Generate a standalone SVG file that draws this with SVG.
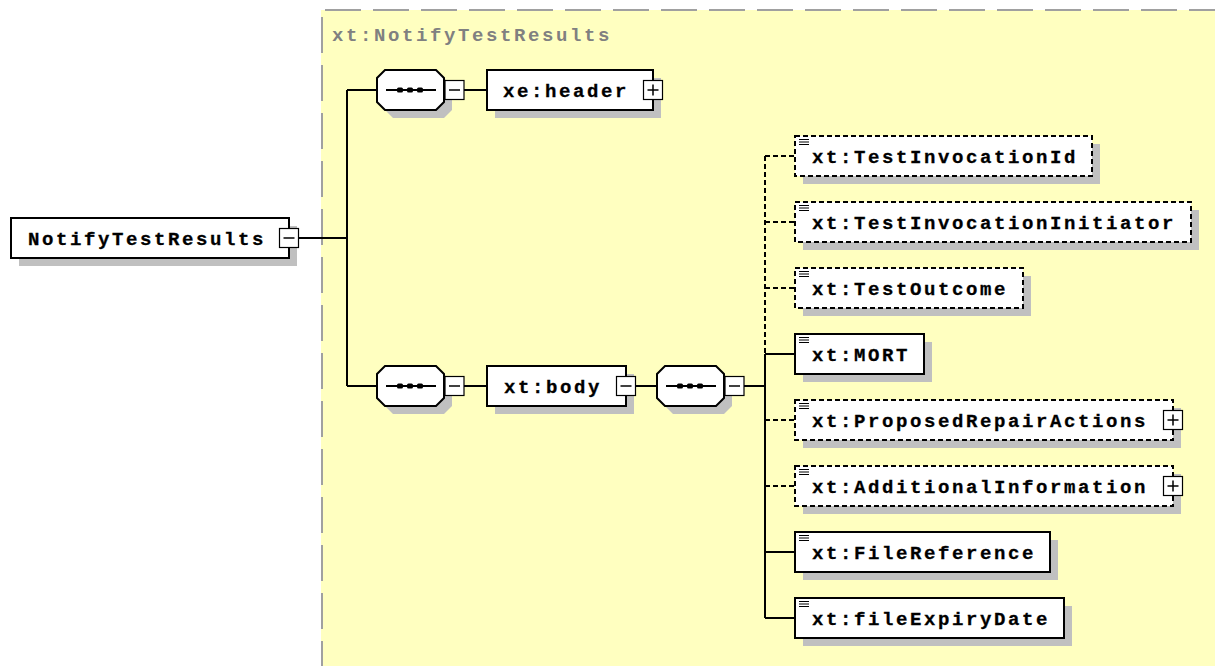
<svg xmlns="http://www.w3.org/2000/svg" xmlns:xlink="http://www.w3.org/1999/xlink" width="1215" height="666" viewBox="0 0 1215 666">
<style>
.box{fill:#ffffff;stroke:#000000;stroke-width:2}
.opt{fill:#ffffff;stroke:#000000;stroke-width:2;stroke-dasharray:5 3}
.shadow{fill:#c0c0c0;stroke:none}
.pm{fill:#ffffff;stroke:#000000;stroke-width:1.2}
.pmline{stroke:#000000;stroke-width:1.5;fill:none}
.conn{stroke:#000000;stroke-width:2;fill:none}
.dconn{stroke:#000000;stroke-width:2;fill:none;stroke-dasharray:5 3}
.lbl{font-family:"Liberation Mono","DejaVu Sans Mono",monospace;font-weight:bold;font-size:19px;letter-spacing:2.6px;fill:#000000;stroke:#000000;stroke-width:0.3}
.title{font-family:"Liberation Mono","DejaVu Sans Mono",monospace;font-weight:bold;font-size:19px;letter-spacing:2.6px;fill:#808080}
.icon{stroke:#000000;stroke-width:1;fill:none}
.seqline{stroke:#000000;stroke-width:2;fill:none}
</style>
<defs>
<path id="oct" d="M8 0 H59 L67 8 V32 L59 40 H8 L0 32 V8 Z"/>
<g id="seqsym">
<path d="M9 20 H59" class="seqline"/>
<rect x="20" y="17.5" width="6" height="5" rx="1.5"/>
<rect x="30" y="17.5" width="6" height="5" rx="1.5"/>
<rect x="40" y="17.5" width="6" height="5" rx="1.5"/>
</g>
<g id="minus">
<rect x="0" y="0" width="19" height="19" class="pm"/>
<path d="M4 9.5 H15" class="pmline"/>
</g>
<g id="plus">
<rect x="0" y="0" width="19" height="19" class="pm"/>
<path d="M4 9.5 H15 M9.5 4 V15" class="pmline"/>
</g>
<g id="elicon">
<path d="M0 0.5 H10 M0 3 H10 M0 5.5 H10" class="icon"/>
</g>
</defs>

<!-- yellow complex type area -->
<g id="typearea">
<rect x="321" y="10" width="894" height="656" fill="#ffffc0"/>
<path d="M325 10 H1215" stroke="#a0a0a0" stroke-width="2" stroke-dasharray="36 12" fill="none"/>
<path d="M322 17 V666" stroke="#a0a0a0" stroke-width="2" stroke-dasharray="36 12" fill="none"/>
<text x="332" y="41" class="title">xt:NotifyTestResults</text>
</g>

<g id="connectors">
<path class="conn" d="M299 238 H347"/>
<path class="conn" d="M347 90 V386"/>
<path class="conn" d="M347 90 H377"/>
<path class="conn" d="M347 386 H377"/>
<path class="conn" d="M464 90 H487"/>
<path class="conn" d="M464 386 H487"/>
<path class="conn" d="M635 386 H657"/>
<path class="conn" d="M744 386 H765"/>
<path class="dconn" d="M765 156 V354"/>
<path class="conn" d="M765 354 V618"/>
<path class="dconn" d="M765 156 H795"/>
<path class="dconn" d="M765 222 H795"/>
<path class="dconn" d="M765 288 H795"/>
<path class="conn" d="M765 354 H795"/>
<path class="dconn" d="M765 420 H795"/>
<path class="dconn" d="M765 486 H795"/>
<path class="conn" d="M765 552 H795"/>
<path class="conn" d="M765 618 H795"/>
</g>

<g id="root">
<rect x="19" y="226" width="278" height="40" class="shadow"/>
<rect x="11" y="218" width="278" height="40" class="box"/>
<text x="28" y="245" class="lbl">NotifyTestResults</text>
<use xlink:href="#minus" x="279.5" y="228.5"/>
</g>

<g id="seq1">
<use xlink:href="#oct" x="385" y="78" class="shadow"/>
<use xlink:href="#oct" x="377" y="70" class="box"/>
<use xlink:href="#seqsym" x="377" y="70"/>
<use xlink:href="#minus" x="445" y="80.5"/>
</g>

<g id="header">
<rect x="495" y="78" width="166" height="40" class="shadow"/>
<rect x="487" y="70" width="166" height="40" class="box"/>
<text x="503" y="97" class="lbl">xe:header</text>
<use xlink:href="#plus" x="643.5" y="80.5"/>
</g>

<g id="seq2">
<use xlink:href="#oct" x="385" y="374" class="shadow"/>
<use xlink:href="#oct" x="377" y="366" class="box"/>
<use xlink:href="#seqsym" x="377" y="366"/>
<use xlink:href="#minus" x="445" y="376.5"/>
</g>

<g id="body">
<rect x="495" y="374" width="139" height="40" class="shadow"/>
<rect x="487" y="366" width="139" height="40" class="box"/>
<text x="504" y="393" class="lbl">xt:body</text>
<use xlink:href="#minus" x="616.5" y="376.5"/>
</g>

<g id="seq3">
<use xlink:href="#oct" x="665" y="374" class="shadow"/>
<use xlink:href="#oct" x="657" y="366" class="box"/>
<use xlink:href="#seqsym" x="657" y="366"/>
<use xlink:href="#minus" x="725" y="376.5"/>
</g>

<g id="TestInvocationId">
<rect x="803" y="144" width="297" height="40" class="shadow"/>
<rect x="795" y="136" width="297" height="40" class="opt"/>
<use xlink:href="#elicon" x="799" y="139"/>
<text x="812" y="163" class="lbl">xt:TestInvocationId</text>
</g>

<g id="TestInvocationInitiator">
<rect x="803" y="210" width="396" height="40" class="shadow"/>
<rect x="795" y="202" width="396" height="40" class="opt"/>
<use xlink:href="#elicon" x="799" y="205"/>
<text x="812" y="229" class="lbl">xt:TestInvocationInitiator</text>
</g>

<g id="TestOutcome">
<rect x="803" y="276" width="228" height="40" class="shadow"/>
<rect x="795" y="268" width="228" height="40" class="opt"/>
<use xlink:href="#elicon" x="799" y="271"/>
<text x="812" y="295" class="lbl">xt:TestOutcome</text>
</g>

<g id="MORT">
<rect x="803" y="342" width="129" height="40" class="shadow"/>
<rect x="795" y="334" width="129" height="40" class="box"/>
<use xlink:href="#elicon" x="799" y="337"/>
<text x="812" y="361" class="lbl">xt:MORT</text>
</g>

<g id="ProposedRepairActions">
<rect x="803" y="408" width="378" height="40" class="shadow"/>
<rect x="795" y="400" width="378" height="40" class="opt"/>
<use xlink:href="#elicon" x="799" y="403"/>
<text x="812" y="427" class="lbl">xt:ProposedRepairActions</text>
<use xlink:href="#plus" x="1163.5" y="410.5"/>
</g>

<g id="AdditionalInformation">
<rect x="803" y="474" width="378" height="40" class="shadow"/>
<rect x="795" y="466" width="378" height="40" class="opt"/>
<use xlink:href="#elicon" x="799" y="469"/>
<text x="812" y="493" class="lbl">xt:AdditionalInformation</text>
<use xlink:href="#plus" x="1163.5" y="476.5"/>
</g>

<g id="FileReference">
<rect x="803" y="540" width="255" height="40" class="shadow"/>
<rect x="795" y="532" width="255" height="40" class="box"/>
<use xlink:href="#elicon" x="799" y="535"/>
<text x="812" y="559" class="lbl">xt:FileReference</text>
</g>

<g id="fileExpiryDate">
<rect x="803" y="606" width="269" height="40" class="shadow"/>
<rect x="795" y="598" width="269" height="40" class="box"/>
<use xlink:href="#elicon" x="799" y="601"/>
<text x="812" y="625" class="lbl">xt:fileExpiryDate</text>
</g>
</svg>
